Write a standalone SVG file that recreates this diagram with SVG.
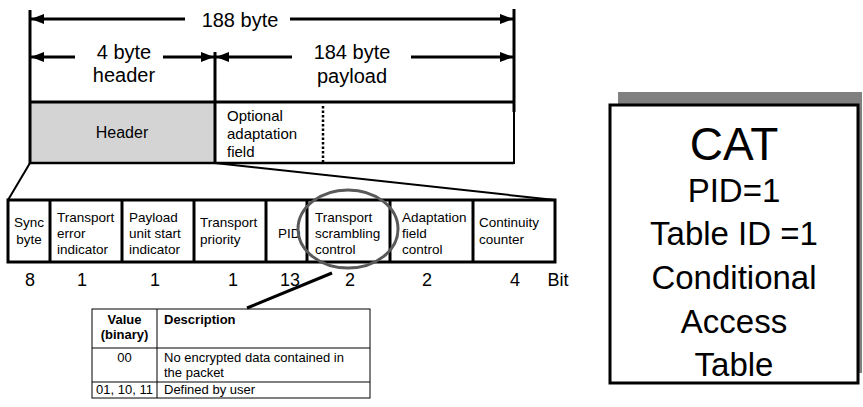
<svg xmlns="http://www.w3.org/2000/svg" width="863" height="407" viewBox="0 0 863 407">
<style>
text{font-family:"Liberation Sans",Arial,sans-serif;fill:#000}
.dim{font-size:20px;text-anchor:middle}
.fld{font-size:13.5px}
.bit{font-size:18px;text-anchor:middle}
.tbl{font-size:13px}
.b{font-weight:bold}
.cat{text-anchor:middle;font-size:33px}
.thick{stroke:#000;stroke-width:3;fill:none}
.thin{stroke:#000;stroke-width:1;fill:none}
</style>
<defs>
<marker id="ah" viewBox="0 0 13 10" refX="13" refY="5" markerWidth="13" markerHeight="10" markerUnits="userSpaceOnUse" orient="auto-start-reverse">
<path d="M0,0 L13,5 L0,10 Z" fill="#000"/>
</marker>
</defs>

<g id="packet">
<rect x="30" y="102" width="185" height="61" fill="#d4d4d4"/>
<line x1="30" y1="102" x2="514" y2="102" class="thick"/>
<line x1="30" y1="163" x2="514" y2="163" stroke="#000" stroke-width="2.5"/>
<line x1="514" y1="102" x2="514" y2="164" stroke="#000" stroke-width="2"/>
<line x1="30" y1="10" x2="30" y2="164" class="thick"/>
<line x1="215" y1="52" x2="215" y2="164" class="thick"/>
<line x1="514" y1="9" x2="514" y2="112" class="thick"/>
<line x1="323" y1="106" x2="323" y2="163" stroke="#000" stroke-width="2.5" stroke-dasharray="2.5,2"/>
<text x="122" y="138" font-size="16" text-anchor="middle">Header</text>
<text x="227" y="121" font-size="15">Optional</text>
<text x="227" y="139" font-size="15">adaptation</text>
<text x="227" y="157" font-size="15">field</text>
</g>

<g id="dimensions">
<line x1="31" y1="19" x2="185" y2="19" class="thick" marker-start="url(#ah)"/>
<line x1="290" y1="19" x2="513" y2="19" class="thick" marker-end="url(#ah)"/>
<text x="240" y="27" class="dim">188 byte</text>
<line x1="31" y1="57" x2="75" y2="57" class="thick" marker-start="url(#ah)"/>
<line x1="163" y1="57" x2="214" y2="57" class="thick" marker-end="url(#ah)"/>
<text x="124" y="59" class="dim">4 byte</text>
<text x="124" y="82" class="dim">header</text>
<line x1="216" y1="57" x2="292" y2="57" class="thick" marker-start="url(#ah)"/>
<line x1="411" y1="57" x2="513" y2="57" class="thick" marker-end="url(#ah)"/>
<text x="352" y="59" class="dim">184 byte</text>
<text x="352" y="83" class="dim">payload</text>
</g>

<g id="fields">
<rect x="8" y="200" width="547" height="62" class="thick"/>
<line x1="50" y1="200" x2="50" y2="262" class="thick"/>
<line x1="122" y1="200" x2="122" y2="262" class="thick"/>
<line x1="194" y1="200" x2="194" y2="262" class="thick"/>
<line x1="266" y1="200" x2="266" y2="262" class="thick"/>
<line x1="307" y1="200" x2="307" y2="262" class="thick"/>
<line x1="390" y1="200" x2="390" y2="262" class="thick"/>
<line x1="473" y1="200" x2="473" y2="262" class="thick"/>
<text class="fld" x="29" y="227" text-anchor="middle">Sync</text>
<text class="fld" x="29" y="244" text-anchor="middle">byte</text>
<text class="fld" x="57" y="222">Transport</text>
<text class="fld" x="57" y="238">error</text>
<text class="fld" x="57" y="254">indicator</text>
<text class="fld" x="129" y="222">Payload</text>
<text class="fld" x="129" y="238">unit start</text>
<text class="fld" x="129" y="254">indicator</text>
<text class="fld" x="200" y="227">Transport</text>
<text class="fld" x="200" y="244">priority</text>
<text class="fld" x="278" y="238">PID</text>
<text class="fld" x="315" y="222">Transport</text>
<text class="fld" x="315" y="238">scrambling</text>
<text class="fld" x="315" y="254">control</text>
<text class="fld" x="402" y="222">Adaptation</text>
<text class="fld" x="402" y="238">field</text>
<text class="fld" x="402" y="254">control</text>
<text class="fld" x="479" y="227">Continuity</text>
<text class="fld" x="479" y="244">counter</text>
</g>

<g id="bits">
<text class="bit" x="30" y="286">8</text>
<text class="bit" x="82" y="286">1</text>
<text class="bit" x="155" y="286">1</text>
<text class="bit" x="233" y="286">1</text>
<text class="bit" x="290" y="286">13</text>
<text class="bit" x="350" y="286">2</text>
<text class="bit" x="427" y="286">2</text>
<text class="bit" x="515" y="286">4</text>
<text class="bit" x="558" y="286">Bit</text>
</g>

<g id="connectors">
<line x1="30" y1="163" x2="8" y2="200" stroke="#000" stroke-width="2"/>
<line x1="215" y1="163" x2="555" y2="200" stroke="#000" stroke-width="2"/>
<line x1="332" y1="273" x2="247" y2="308" stroke="#000" stroke-width="3"/>
</g>

<g id="highlight">
<ellipse cx="348" cy="229" rx="50" ry="39" fill="none" stroke="#595959" stroke-width="3"/>
</g>

<g id="table">
<rect x="92" y="309" width="278" height="89" class="thin"/>
<line x1="157" y1="309" x2="157" y2="398" class="thin"/>
<line x1="92" y1="348" x2="370" y2="348" class="thin"/>
<line x1="92" y1="382" x2="370" y2="382" class="thin"/>
<text class="tbl b" x="124.5" y="324" text-anchor="middle">Value</text>
<text class="tbl b" x="124.5" y="339" text-anchor="middle">(binary)</text>
<text class="tbl b" x="164" y="324">Description</text>
<text class="tbl" x="124.5" y="362" text-anchor="middle">00</text>
<text class="tbl" x="164" y="362">No encrypted data contained in</text>
<text class="tbl" x="164" y="377">the packet</text>
<text class="tbl" x="124.5" y="394" text-anchor="middle">01, 10, 11</text>
<text class="tbl" x="164" y="394">Defined by user</text>
</g>

<g id="cat">
<rect x="618" y="92" width="244" height="281" fill="#808080"/>
<rect x="610" y="105" width="248" height="278" fill="#fff" stroke="#000" stroke-width="3"/>
<text x="734" y="160" text-anchor="middle" font-size="46">CAT</text>
<text class="cat" x="734" y="202">PID=1</text>
<text class="cat" x="734" y="245">Table ID =1</text>
<text class="cat" x="734" y="289">Conditional</text>
<text class="cat" x="734" y="333">Access</text>
<text class="cat" x="734" y="376">Table</text>
</g>
</svg>
